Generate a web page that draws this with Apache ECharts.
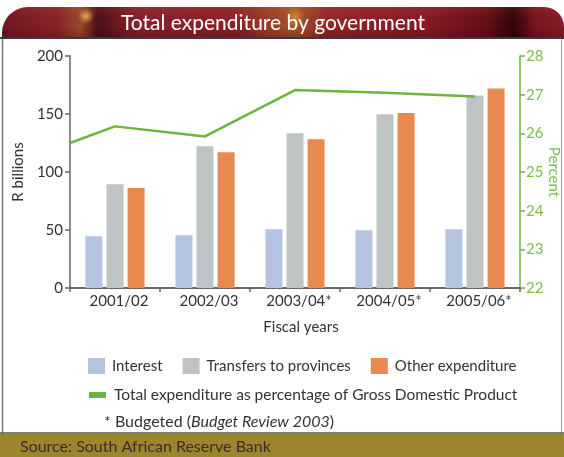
<!DOCTYPE html>
<html>
<head>
<meta charset="utf-8">
<script src="https://cdn.jsdelivr.net/npm/echarts@6/dist/echarts.min.js"></script>
<style>
  html, body { margin: 0; padding: 0; background: #ffffff; }
  #chart { width: 564px; height: 457px; }
</style>
</head>
<body>
<div id="chart"></div>
<script>
// Fiscal years on the category axis (* = budgeted)
const fiscalYears = ['2001/02', '2002/03', '2003/04*', '2004/05*', '2005/06*'];

// Expenditure components, R billions
const interest = [44.6, 45.4, 50.6, 49.7, 50.6];
const transfersToProvinces = [89.4, 122.2, 133.4, 149.7, 166.0];
const otherExpenditure = [86.2, 117.0, 128.2, 150.9, 172.0];

// Total expenditure as % of GDP; the line enters from the left edge of the plot
const gdpShareStart = 25.75;
const gdpShare = [26.18, 25.92, 27.12, 27.05, 26.95];

// Axis ticks
const leftTicks = { min: 0, max: 200, interval: 50 };
const rightTicks = { min: 22, max: 28, interval: 1 };

const FONT = 'Lato';
const GREEN = '#6cb43f';
const GREEN_TEXT = '#7dbd4c';
const TEXT = '#333333';

// line points placed on a value axis that spans the category bands
const gdpLine = [[-0.5, gdpShareStart]].concat(gdpShare.map((v, i) => [i, v]));

const chart = echarts.init(document.getElementById('chart'), null, { renderer: 'canvas' });

const option = {
  backgroundColor: '#ffffff',
  animation: false,
  textStyle: { fontFamily: FONT },
  grid: { left: 70, right: 44, top: 56, bottom: 169, containLabel: false, outerBoundsMode: 'none' },
  xAxis: [
    {
      type: 'category',
      data: fiscalYears,
      boundaryGap: true,
      axisLine: { show: true, onZero: false, lineStyle: { color: '#666666', width: 2 } },
      axisTick: { show: true, length: 4, lineStyle: { color: '#666666', width: 1.5 } },
      axisLabel: { color: TEXT, fontSize: 15, fontFamily: FONT, margin: 6, padding: [0, 0, 0, 8] },
      name: 'Fiscal years',
      nameLocation: 'middle',
      nameGap: 32,
      nameTextStyle: { color: TEXT, fontSize: 15, fontFamily: FONT, padding: [0, 0, 0, 12] }
    },
    {
      type: 'value',
      min: -0.5,
      max: fiscalYears.length - 0.5,
      show: false,
      axisLine: { show: false, onZero: false },
      splitLine: { show: false }
    }
  ],
  yAxis: [
    {
      type: 'value',
      min: leftTicks.min,
      max: leftTicks.max,
      interval: leftTicks.interval,
      position: 'left',
      splitLine: { show: false },
      axisLine: { show: true, onZero: false, lineStyle: { color: '#666666', width: 1.5 } },
      axisTick: { show: true, length: 5, lineStyle: { color: '#666666', width: 1.5 } },
      axisLabel: { color: TEXT, fontSize: 15, fontFamily: FONT, margin: 7 },
      name: 'R billions',
      nameLocation: 'middle',
      nameRotate: 90,
      nameGap: 42,
      nameTextStyle: { color: TEXT, fontSize: 15, fontFamily: FONT }
    },
    {
      type: 'value',
      min: rightTicks.min,
      max: rightTicks.max,
      interval: rightTicks.interval,
      position: 'right',
      splitLine: { show: false },
      axisLine: { show: true, onZero: false, lineStyle: { color: GREEN, width: 1.5 } },
      axisTick: { show: true, length: 5, lineStyle: { color: GREEN, width: 1.5 } },
      axisLabel: { color: GREEN_TEXT, fontSize: 15, fontFamily: FONT, margin: 6 }
    }
  ],
  legend: [
    {
      left: 88,
      top: 358,
      padding: 0,
      orient: 'horizontal',
      itemWidth: 17,
      itemHeight: 16,
      itemGap: 20,
      icon: 'rect',
      textStyle: { color: TEXT, fontSize: 15, fontFamily: FONT, padding: [0, 0, 0, 2] },
      data: ['Interest', 'Transfers to provinces', 'Other expenditure']
    },
    {
      left: 89,
      top: 387,
      padding: 0,
      itemWidth: 17,
      itemHeight: 6,
      icon: 'rect',
      textStyle: { color: TEXT, fontSize: 15.5, fontFamily: FONT, padding: [0, 0, 0, 3] },
      data: ['Total expenditure as percentage of Gross Domestic Product']
    }
  ],
  series: [
    {
      name: 'Interest',
      type: 'bar',
      data: interest,
      barWidth: 17,
      barGap: '24%',
      itemStyle: { color: '#b4c3e0' }
    },
    {
      name: 'Transfers to provinces',
      type: 'bar',
      data: transfersToProvinces,
      barWidth: 17,
      barGap: '24%',
      itemStyle: { color: '#bec3c3' }
    },
    {
      name: 'Other expenditure',
      type: 'bar',
      data: otherExpenditure,
      barWidth: 17,
      barGap: '24%',
      itemStyle: { color: '#e88a50' }
    },
    {
      name: 'Total expenditure as percentage of Gross Domestic Product',
      type: 'line',
      xAxisIndex: 1,
      yAxisIndex: 1,
      data: gdpLine,
      symbol: 'none',
      color: GREEN,
      itemStyle: { color: GREEN },
      lineStyle: { color: GREEN, width: 2.5 },
      z: 5
    }
  ],
  graphic: [
    // panel frame
    { type: 'line', shape: { x1: 2.5, y1: 38, x2: 2.5, y2: 434 }, style: { stroke: '#777777', lineWidth: 1.5 }, z: 1 },
    { type: 'line', shape: { x1: 561.5, y1: 38, x2: 561.5, y2: 434 }, style: { stroke: '#999999', lineWidth: 1 }, z: 1 },
    { type: 'line', shape: { x1: 0, y1: 433, x2: 564, y2: 433 }, style: { stroke: '#555555', lineWidth: 1.5 }, z: 1 },
    // header band
    {
      type: 'rect',
      shape: { x: 2, y: 7, width: 562, height: 31, r: [26, 20, 0, 0] },
      style: {
        fill: {
          type: 'linear', x: 0, y: 0, x2: 1, y2: 0,
          colorStops: [
            { offset: 0, color: '#731722' },
            { offset: 0.1, color: '#8a2428' },
            { offset: 0.14, color: '#9c4a2c' },
            { offset: 0.17, color: '#4e1016' },
            { offset: 0.24, color: '#86202a' },
            { offset: 0.42, color: '#8e2228' },
            { offset: 0.52, color: '#a8552c' },
            { offset: 0.58, color: '#92262a' },
            { offset: 0.75, color: '#8a1a26' },
            { offset: 0.86, color: '#6a0e18' },
            { offset: 0.91, color: '#300408' },
            { offset: 0.95, color: '#7a1420' },
            { offset: 1, color: '#8a1c26' }
          ]
        }
      },
      z: 2
    },
    {
      type: 'rect',
      shape: { x: 2, y: 7, width: 562, height: 31, r: [26, 20, 0, 0] },
      style: {
        fill: {
          type: 'linear', x: 0, y: 0, x2: 0, y2: 1,
          colorStops: [
            { offset: 0, color: 'rgba(255,140,90,0.12)' },
            { offset: 0.6, color: 'rgba(0,0,0,0)' },
            { offset: 1, color: 'rgba(30,0,5,0.25)' }
          ]
        }
      },
      z: 3
    },
    {
      type: 'ellipse',
      shape: { cx: 86, cy: 16, rx: 10, ry: 8 },
      style: {
        fill: {
          type: 'radial', x: 0.5, y: 0.5, r: 0.5,
          colorStops: [
            { offset: 0, color: 'rgba(240,190,90,0.85)' },
            { offset: 1, color: 'rgba(240,190,90,0)' }
          ]
        }
      },
      z: 3
    },
    {
      type: 'ellipse',
      shape: { cx: 295, cy: 17, rx: 26, ry: 10 },
      style: {
        fill: {
          type: 'radial', x: 0.5, y: 0.5, r: 0.5,
          colorStops: [
            { offset: 0, color: 'rgba(235,150,60,0.7)' },
            { offset: 1, color: 'rgba(235,150,60,0)' }
          ]
        }
      },
      z: 3
    },
    { type: 'line', shape: { x1: 0, y1: 38, x2: 564, y2: 38 }, style: { stroke: '#3a3a3a', lineWidth: 2 }, z: 4 },
    {
      type: 'text',
      x: 273,
      y: 23,
      style: {
        text: 'Total expenditure by government',
        fill: '#ffffff',
        font: '21px ' + FONT,
        align: 'center',
        verticalAlign: 'middle'
      },
      z: 5
    },
    // right axis title, reading top to bottom
    {
      type: 'text',
      x: 554,
      y: 172,
      rotation: -Math.PI / 2,
      style: {
        text: 'Percent',
        fill: GREEN_TEXT,
        font: '15px ' + FONT,
        align: 'center',
        verticalAlign: 'middle'
      },
      z: 5
    },
    // footnote
    {
      type: 'text',
      x: 104,
      y: 422,
      style: {
        text: '* Budgeted ({i|Budget Review 2003})',
        fill: TEXT,
        font: '16px ' + FONT,
        verticalAlign: 'middle',
        rich: { i: { fontStyle: 'italic', fontSize: 16, fontFamily: FONT, fill: TEXT } }
      },
      z: 5
    },
    // source band
    { type: 'rect', shape: { x: 0, y: 434, width: 564, height: 23 }, style: { fill: '#9d842f' }, z: 2 },
    {
      type: 'text',
      x: 20,
      y: 447,
      style: {
        text: 'Source: South African Reserve Bank',
        fill: '#3a3020',
        font: '16px ' + FONT,
        verticalAlign: 'middle'
      },
      z: 5
    }
  ]
};

chart.setOption(option);
</script>
</body>
</html>
